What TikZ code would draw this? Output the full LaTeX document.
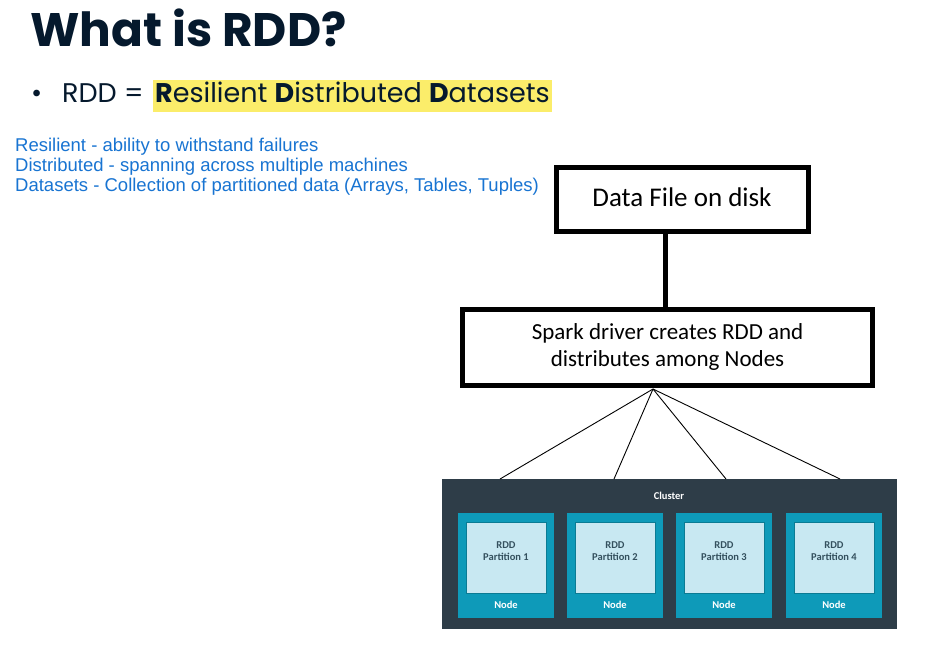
\documentclass[tikz,border=0pt]{standalone}
\usepackage{fontspec}
\setmainfont{Liberation Sans}
\newfontfamily\titlefont{Poppins}
\newfontfamily\boxfont{Carlito}
\newfontfamily\bluefont{Liberation Sans}
\definecolor{navy}{HTML}{05192D}
\definecolor{linkblue}{HTML}{1874D2}
\definecolor{hl}{HTML}{FBED6A}
\definecolor{clusterc}{HTML}{2E3D48}
\definecolor{nodec}{HTML}{0E9AB9}
\definecolor{innerc}{HTML}{C8E8F2}
\definecolor{innertxt}{HTML}{34505E}
\tikzset{
  px/.style={x=1pt,y=-1pt},
  bigbox/.style={draw=black,line width=5pt,fill=white,inner sep=0pt},
  fan/.style={draw=black,line width=0.9pt},
  nodebox/.style={fill=nodec,inner sep=0pt},
  innerbox/.style={fill=innerc,draw=nodec!80!black,line width=0.6pt,inner sep=0pt},
  smalltxt/.style={font=\boxfont\bfseries\fontsize{10.5}{12}\selectfont},
  bluetxt/.style={anchor=base west,inner sep=0pt,text=linkblue,font=\bluefont\fontsize{18.5}{20}\selectfont},
  bultxt/.style={anchor=base west,inner sep=0pt,text=navy,font=\titlefont\fontsize{27}{32}\selectfont},
}
\begin{document}
\begin{tikzpicture}[px]
\useasboundingbox[fill=white] (0,0) rectangle (941,652);
% title
\node[anchor=base west,inner sep=0pt,text=navy,font=\titlefont\bfseries\fontsize{47}{52}\selectfont] (title) at (30,47) {What is RDD?};
% bullet line
\node[bultxt] (bul) at (31,103) {\textbullet};
\node[bultxt] (rdd) at (62,103) {RDD =};
\node[bultxt,fill=hl,inner xsep=2pt,inner ysep=0pt,minimum height=32pt,text depth=7pt,anchor=base west] (hltxt) at (153,103) {\textbf{R}esilient \textbf{D}istributed \textbf{D}atasets};
% blue text
\node[bluetxt] (def) at (15,152) {Resilient - ability to withstand failures};
\node[bluetxt] (def2) at (15,172) {Distributed - spanning across multiple machines};
\node[bluetxt] (def3) at (15,192) {Datasets - Collection of partitioned data (Arrays, Tables, Tuples)};
% boxes
\node[bigbox,minimum width=252pt,minimum height=64pt] (file) at (682,199.5) {};
\node[font=\boxfont\fontsize{27}{30}\selectfont,inner sep=0pt] (filetxt) at (file.center) [yshift=2pt] {Data File on disk};
\node[bigbox,minimum width=410pt,minimum height=76pt,align=center,font=\boxfont\fontsize{23}{27}\selectfont] (spark) at (667.5,347) {Spark driver creates RDD and\\distributes among Nodes};
\draw[line width=5pt] (file.south -| 665,0) -- (spark.north -| 665,0);
% cluster
\node[fill=clusterc,minimum width=455pt,minimum height=150pt,inner sep=0pt] (cluster) at (669,554) {};
\node[smalltxt,text=white] (cl) at (669,496) {Cluster};
\coordinate (apex) at (653,389);
\coordinate (t1) at (500,479);
\coordinate (t2) at (614,479);
\coordinate (t3) at (726,479);
\coordinate (t4) at (840,479);
\foreach \i in {1,...,4} {\draw[fan] (apex) -- (t\i);}
\foreach \i/\x in {1/506,2/615,3/724,4/834} {
  \node[nodebox,minimum width=96pt,minimum height=105pt] (n\i) at (\x,565.5) {};
  \node[innerbox,minimum width=80pt,minimum height=71pt] (p\i) at (\x,557.5) {};
  \node[align=center,inner sep=0pt,font=\boxfont\bfseries\fontsize{10.5}{12}\selectfont,text=innertxt] (pt\i) at (\x,551) {RDD\\Partition \i};
  \node[smalltxt,text=white] (nl\i) at (\x,605) {Node};
}
\end{tikzpicture}
\end{document}
